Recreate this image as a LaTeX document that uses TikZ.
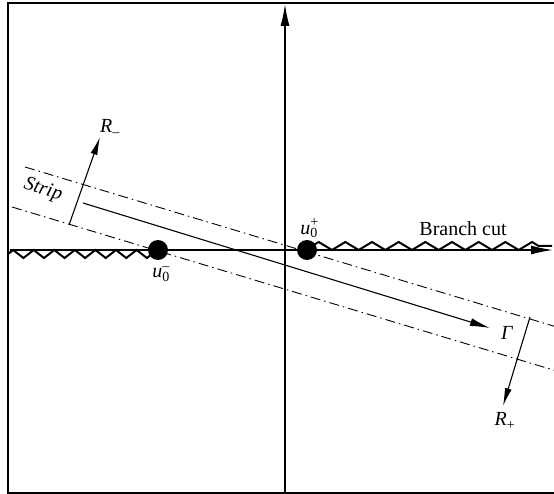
\documentclass[tikz,border=0pt]{standalone}
\usepackage{fontspec}
\setmainfont{Liberation Serif}
\usetikzlibrary{arrows.meta,decorations.pathmorphing}
\tikzset{
  frameline/.style={line width=1.6pt},
  axisline/.style={line width=1.4pt,-{Latex[length=22pt,width=9pt]}},
  stripline/.style={line width=0.9pt,dash pattern=on 10pt off 4pt on 1.5pt off 4pt},
  gammaline/.style={line width=1.1pt,-{Latex[length=20pt,width=8pt]}},
  rarrow/.style={line width=1.1pt,-{Latex[length=18pt,width=7pt]}},
  cut/.style={line width=2pt,decorate,decoration={zigzag,segment length=20.57pt,amplitude=4pt}},
  cutr/.style={line width=2pt,decorate,decoration={zigzag,segment length=26.67pt,amplitude=4pt}},
  dot/.style={circle,fill=black,inner sep=0pt,minimum size=20pt},
  lbl/.style={inner sep=0pt,font=\fontsize{20}{24}\selectfont}
}
\begin{document}
\begin{tikzpicture}[x=1pt,y=-1pt]
\useasboundingbox (0,0) rectangle (554,494);
\begin{scope}
\clip (0,0) rectangle (554,494);
% frame
\draw[frameline] (554,3) -- (8,3) -- (8,493) -- (554,493);
% strip lines
\coordinate (su1) at (25,167);
\coordinate (su2) at (560,328);
\coordinate (sl1) at (12,207);
\coordinate (sl2) at (560,372);
\draw[stripline] (su1) -- (su2);
\draw[stripline] (sl1) -- (sl2);
% axes
\coordinate (vb) at (285,493);
\coordinate (vt) at (285,4);
\coordinate (hl) at (10,250);
\coordinate (hr) at (553,250);
\draw[axisline] (vb) -- (vt);
\draw[axisline] (hl) -- (hr);
% branch cuts
\coordinate (cl1) at (8,254);
\coordinate (cl2) at (152,254);
\coordinate (cr1) at (312,246);
\coordinate (cr2) at (552,246);
\draw[cut] (cl1) -- (cl2);
\draw[cutr] (cr1) -- (cr2);
% points
\node[dot] (um) at (158,250) {};
\node[dot] (up) at (307,250) {};
% contour Gamma
\coordinate (g1) at (83,203);
\coordinate (g2) at (490,328);
\draw[gammaline] (g1) -- (g2);
% R arrows
\coordinate (rm1) at (69,225);
\coordinate (rm2) at (100,137);
\coordinate (rp1) at (530,317);
\coordinate (rp2) at (503,406);
\draw[rarrow] (rm1) -- (rm2);
\draw[rarrow] (rp1) -- (rp2);
\end{scope}
% labels
\node[lbl] (lrm) at (110,128) {\textit{R}\textsubscript{–}};
\node[lbl] (lrp) at (505,421) {\textit{R}\textsubscript{+}};
\node[lbl,rotate=-16.7] (lstrip) at (43,190) {\textit{Strip}};
\node[lbl] (lgamma) at (507,333) {\textit{Γ}};
\node[lbl] (lbranch) at (463,229) {Branch cut};
\node[lbl] (lum) at (161,274) {\textit{u}\makebox[0pt][l]{\textsuperscript{–}}\textsubscript{0}};
\node[lbl] (lup) at (309,228) {\textit{u}\makebox[0pt][l]{\textsuperscript{+}}\textsubscript{0}};
\end{tikzpicture}
\end{document}
